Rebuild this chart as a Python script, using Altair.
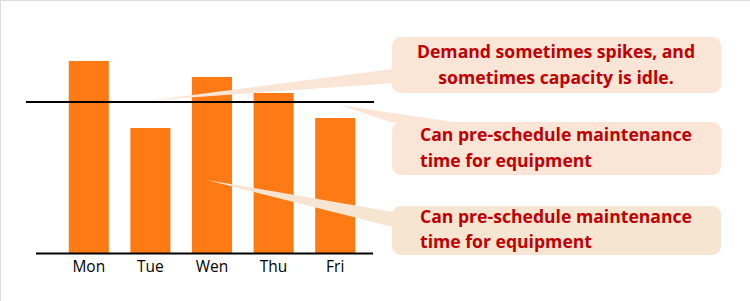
import altair as alt
import pandas as pd

# ---- data ----
days = ["Mon", "Tue", "Wen", "Thu", "Fri"]
demand = [96, 62.5, 88, 80, 67.5]
capacity = 75.5
notes = [
    ["Demand sometimes spikes, and", "sometimes capacity is idle."],
    ["Can pre-schedule maintenance", "time for equipment"],
    ["Can pre-schedule maintenance", "time for equipment"],
]

W, H = 750, 301
BAR = "#FE7A15"
BOX_A = "#FBE5D6"
BOX_B = "#F5E5D1"
RED = "#C00000"
FONT = "Open Sans"

df = pd.DataFrame({"day": days, "demand": demand})
one = pd.DataFrame({"a": [0]})

xs = alt.Scale(domain=days, range=[58, 366], paddingInner=0.35, paddingOuter=0.175)
ys = alt.Scale(domain=[0, 126.5], range=[253, 0])
px = alt.Scale(domain=[0, W], range=[0, W])
py = alt.Scale(domain=[0, H], range=[0, H])

bars = alt.Chart(df).mark_bar(color=BAR).encode(
    x=alt.X("day:N", scale=xs, axis=None, sort=days),
    y=alt.Y("demand:Q", scale=ys, axis=None),
)

labels = alt.Chart(df).mark_text(font=FONT, fontSize=15.5, fontWeight=500, color="#000000", baseline="middle").encode(
    x=alt.X("day:N", scale=xs, axis=None, sort=days),
    y=alt.value(267),
    text="day:N",
)

base_line = alt.Chart(one).mark_rule(color="black", strokeWidth=2).encode(
    x=alt.value(36), x2=alt.value(373), y=alt.value(253.5)
)

cap_line = alt.Chart(one).mark_rule(color="black", strokeWidth=2).encode(
    x=alt.value(26), x2=alt.value(374),
    y=alt.Y(datum=capacity, scale=ys, axis=None),
)

# callout wedges (decoration geometry)
def wedge(points, color):
    d = pd.DataFrame(points, columns=["x", "y", "y2"])
    return alt.Chart(d).mark_area(color=color, opacity=1).encode(
        x=alt.X("x:Q", scale=px, axis=None),
        y=alt.Y("y:Q", scale=py, axis=None),
        y2="y2:Q",
    )

w1 = wedge([(150, 100.5, 100.5), (393, 69, 83)], BOX_A)
w2 = wedge([(340, 105, 105), (392, 113, 122.5), (450, 121.5, 122.5)], BOX_A)
w3 = wedge([(207, 180, 180), (393, 212, 227)], BOX_B)

def box(x1, x2, y1, y2, color):
    return alt.Chart(one).mark_rect(color=color, cornerRadius=9).encode(
        x=alt.value(x1), x2=alt.value(x2), y=alt.value(y1), y2=alt.value(y2)
    )

b1 = box(392, 721, 37, 93, BOX_A)
b2 = box(392, 721, 122, 175, BOX_A)
b3 = box(392, 721, 206, 255, BOX_B)

def line_text(txt, x, y, align):
    return alt.Chart(one).mark_text(
        text=txt, font=FONT, fontSize=17.6, fontWeight="bold", color=RED,
        align=align, baseline="middle",
    ).encode(x=alt.value(x), y=alt.value(y))

texts = [
    line_text(notes[0][0], 556, 53, "center"),
    line_text(notes[0][1], 556, 79, "center"),
    line_text(notes[1][0], 420, 136, "left"),
    line_text(notes[1][1], 420, 162, "left"),
    line_text(notes[2][0], 420, 218, "left"),
    line_text(notes[2][1], 420, 243, "left"),
]

chart = alt.layer(
    bars, labels, w1, w2, w3, base_line, cap_line, b1, b2, b3, *texts
).resolve_scale(x="independent", y="independent").properties(
    width=W, height=H,
    autosize=alt.AutoSizeParams(type="none"),
    padding=0,
).configure_view(stroke=None).configure(background="white")

chart.save("out.html", embed_options={"renderer": "svg", "actions": False})
